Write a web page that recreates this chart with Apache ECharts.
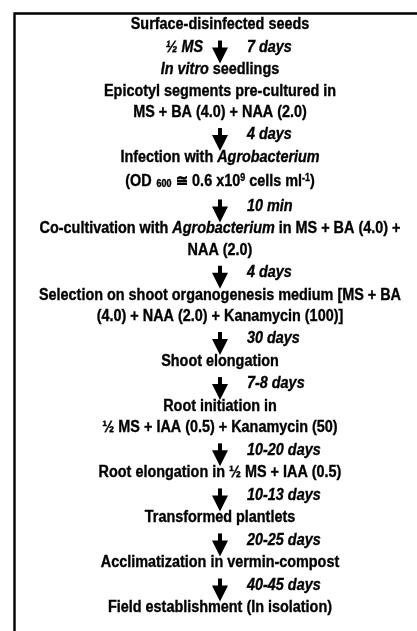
<!DOCTYPE html>
<html><head><meta charset="utf-8">
<script src="https://cdn.jsdelivr.net/npm/echarts@6/dist/echarts.min.js"></script>
<style>html,body{margin:0;padding:0;background:#fff}#c{width:417px;height:631px}</style>
</head><body><div id="c"></div>
<script>
// Row kinds: 'step' = text line of a stage, 'arrow' = transition with duration
const rowKinds = ['step','arrow','step','step','step','arrow','step','step','arrow','step','step','arrow','step','step','arrow','step','arrow','step','step','arrow','step','arrow','step','arrow','step','arrow','step'];
const rowTexts = [
  'Surface-disinfected seeds',
  '7 days',
  '{i|In vitro} seedlings',
  'Epicotyl segments pre-cultured in',
  'MS + BA (4.0) + NAA (2.0)',
  '4 days',
  'Infection with {i|Agrobacterium}',
  '(OD {sub|600} ≅ 0.6 x10{sup|9} cells ml{sup|-1})',
  '10 min',
  'Co-cultivation with {i|Agrobacterium} in MS + BA (4.0) +',
  'NAA (2.0)',
  '4 days',
  'Selection on shoot organogenesis medium [MS + BA',
  '(4.0) + NAA (2.0) + Kanamycin (100)]',
  '30 days',
  'Shoot elongation',
  '7-8 days',
  'Root initiation in',
  '½ MS + IAA (0.5) + Kanamycin (50)',
  '10-20 days',
  'Root elongation in ½ MS + IAA (0.5)',
  '10-13 days',
  'Transformed plantlets',
  '20-25 days',
  'Acclimatization in vermin-compost',
  '40-45 days',
  'Field establishment (In isolation)'
];
const rowLeftNotes = ['', '½ MS', '', '', '', '', '', '', '', '', '', '', '', '', '', '', '', '', '', '', '', '', '', '', '', '', ''];

// layout spacing (in row units); lines with super/subscripts get a little more room
const GAP_TEXT = 1.0, GAP_ARROW = 1.06, GAP_SCRIPT = 0.12;
const hasScript = t => /\{su[pb]\|/.test(t);
const rowPos = [];
rowKinds.forEach((k, i) => {
  if (i === 0) { rowPos.push(0); return; }
  const prev = rowKinds[i - 1];
  let g = (k === 'step' && prev === 'step') ? GAP_TEXT : GAP_ARROW;
  if (hasScript(rowTexts[i]) || hasScript(rowTexts[i - 1])) g += GAP_SCRIPT;
  rowPos.push(rowPos[i - 1] + g);
});

const FONT = "'Liberation Sans', Arial, sans-serif";
const FS = 16;
const SX = 0.9;
const INK = { fill: '#000', stroke: '#000', lineWidth: 0.35 };
const rich = {
  i: Object.assign({ fontStyle: 'italic', fontWeight: 'bold', fontSize: FS, fontFamily: FONT }, INK),
  sup: Object.assign({ fontSize: 10, fontWeight: 'bold', fontFamily: FONT, padding: [0, 0, 7, 0], verticalAlign: 'middle' }, INK),
  sub: Object.assign({ fontSize: 10, fontWeight: 'bold', fontFamily: FONT, padding: [6, 1, 0, 1], verticalAlign: 'middle' }, INK)
};

const chart = echarts.init(document.getElementById('c'), null, { renderer: 'canvas' });
chart.setOption({
  backgroundColor: '#fff',
  animation: false,
  grid: { left: 23, right: 0, top: 25, bottom: 23 },
  xAxis: { type: 'value', min: -1, max: 1, show: false },
  yAxis: { type: 'value', inverse: true, min: 0, max: rowPos[rowPos.length - 1], show: false },
  graphic: [{
    type: 'rect', left: 12, top: 11, silent: true,
    shape: { x: 0, y: 0, width: 460, height: 700 },
    style: { fill: 'none', stroke: '#000', lineWidth: 2.4 }
  }],
  series: [{
    type: 'custom',
    clip: false,
    data: rowTexts.map((t, i) => [0, rowPos[i], i]),
    encode: { x: 0, y: 1 },
    renderItem: function (params, api) {
      const idx = api.value(2);
      const p = api.coord([0, api.value(1)]);
      if (rowKinds[idx] === 'step') {
        return {
          type: 'text', x: p[0], y: p[1], scaleX: SX,
          style: Object.assign({
            text: rowTexts[idx], rich: rich,
            fontFamily: FONT, fontWeight: 'bold', fontSize: FS,
            align: 'center', verticalAlign: 'middle'
          }, INK)
        };
      }
      const children = [
        { type: 'rect', shape: { x: -2, y: -7, width: 4, height: 9 }, style: { fill: '#000' } },
        { type: 'polygon', shape: { points: [[-8, 0], [8, 0], [0, 16]] }, style: { fill: '#000' } },
        { type: 'text', x: 27, y: 0, scaleX: SX, style: Object.assign({
            text: rowTexts[idx], fontFamily: FONT, fontWeight: 'bold', fontStyle: 'italic',
            fontSize: FS, align: 'left', verticalAlign: 'middle' }, INK) }
      ];
      if (rowLeftNotes[idx]) {
        children.push({ type: 'text', x: -17, y: 0, scaleX: SX, style: Object.assign({
          text: rowLeftNotes[idx], fontFamily: FONT, fontWeight: 'bold', fontStyle: 'italic',
          fontSize: FS, align: 'right', verticalAlign: 'middle' }, INK) });
      }
      return { type: 'group', x: p[0], y: p[1], children: children };
    }
  }]
});
</script>
</body></html>
